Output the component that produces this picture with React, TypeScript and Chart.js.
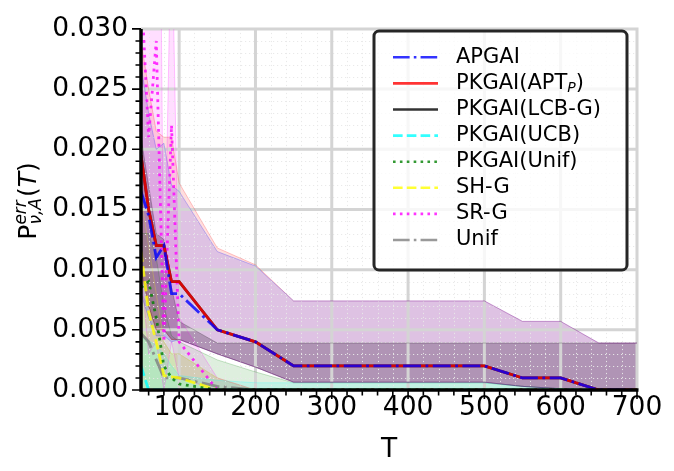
import { useEffect, useRef } from "react"
import { Chart, registerables } from "chart.js"

Chart.register(...registerables)

// budget values T
const T_VALUES = [50, 60, 70, 80, 90, 100, 150, 200, 250, 300, 350, 400, 450, 500, 550, 600, 650, 700]

const APGAI_MEAN = [0.0165, 0.0145, 0.011, 0.012, 0.008, 0.008, 0.005, 0.004, 0.002, 0.002, 0.002, 0.002, 0.002, 0.002, 0.001, 0.001, 0, 0]
const APGAI_UPPER = [0.027, 0.023, 0.02, 0.0205, 0.017, 0.0165, 0.0115, 0.0103, 0.0074, 0.0074, 0.0074, 0.0074, 0.0074, 0.0074, 0.0057, 0.0057, 0.0039, 0.0039]
const APGAI_LOWER = [0.008, 0.006, 0.0045, 0.0045, 0.004, 0.0042, 0.003, 0.0019, 0.00065, 0.00065, 0.00065, 0.00065, 0.00065, 0.00065, 0.0003, 0.0001, 0, 0]

const APT_MEAN = [0.0195, 0.015, 0.012, 0.012, 0.009, 0.009, 0.005, 0.004, 0.002, 0.002, 0.002, 0.002, 0.002, 0.002, 0.001, 0.001, 0, 0]
const APT_UPPER = [0.029, 0.025, 0.0215, 0.021, 0.021, 0.0172, 0.0118, 0.0104, 0.0074, 0.0074, 0.0074, 0.0074, 0.0074, 0.0074, 0.0057, 0.0057, 0.0039, 0.0039]
const APT_LOWER = [0.01, 0.007, 0.005, 0.005, 0.0042, 0.0042, 0.003, 0.0019, 0.00065, 0.00065, 0.00065, 0.00065, 0.00065, 0.00065, 0.0003, 0.0001, 0, 0]

const LCB_MEAN = [0.0195, 0.015, 0.012, 0.012, 0.009, 0.009, 0.005, 0.004, 0.002, 0.002, 0.002, 0.002, 0.002, 0.002, 0.001, 0.001, 0, 0]
const LCB_UPPER = [0.021, 0.017, 0.013, 0.0125, 0.0085, 0.0057, 0.0039, 0.0039, 0.0039, 0.0039, 0.0039, 0.0039, 0.0039, 0.0039, 0.0039, 0.0039, 0.0039, 0.0039]
const LCB_LOWER = [0.01, 0.007, 0.005, 0.005, 0.0042, 0.0042, 0.003, 0.0019, 0.00065, 0.00065, 0.00065, 0.00065, 0.00065, 0.00065, 0.0003, 0.0001, 0, 0]

const UCB_MEAN = [0.002, 0, 0, 0, 0, 0, 0, 0, 0, 0, 0, 0, 0, 0, 0, 0, 0, 0]
const UCB_UPPER = [0.0044, 0.0041, 0.0037, 0.003, 0.002, 0.0012, 0.0008, 0.0006, 0.0006, 0.0006, 0.0006, 0.0006, 0.0006, 0.0006, 0.0003, 0.0001, 0, 0]
const UCB_LOWER = [0, 0, 0, 0, 0, 0, 0, 0, 0, 0, 0, 0, 0, 0, 0, 0, 0, 0]

const PUNIF_MEAN = [0.0085, 0.009, 0.006, 0.002, 0.001, 0.0005, 0, 0, 0, 0, 0, 0, 0, 0, 0, 0, 0, 0]
const PUNIF_UPPER = [0.013, 0.013, 0.011, 0.007, 0.0045, 0.004, 0.0025, 0.0015, 0.0006, 0.0006, 0.0006, 0.0006, 0.0006, 0.0006, 0.0003, 0.0001, 0, 0]
const PUNIF_LOWER = [0, 0, 0, 0, 0, 0, 0, 0, 0, 0, 0, 0, 0, 0, 0, 0, 0, 0]

const SHG_MEAN = [0.0115, 0.0065, 0.004, 0.0012, 0.0011, 0.001, 0, 0, 0, 0, 0, 0, 0, 0, 0, 0, 0, 0]
const SHG_UPPER = [0.016, 0.012, 0.008, 0.004, 0.003, 0.003, 0.001, 0, 0, 0, 0, 0, 0, 0, 0, 0, 0, 0]
const SHG_LOWER = [0, 0, 0, 0, 0, 0, 0, 0, 0, 0, 0, 0, 0, 0, 0, 0, 0, 0]

const SRG_MEAN = [0.034, 0.021, 0.029, 0.004, 0.022, 0.004, 0, 0, 0, 0, 0, 0, 0, 0, 0, 0, 0, 0]
const SRG_UPPER = [0.06, 0.05, 0.08, 0.006, 0.04, 0.006, 0.001, 0, 0, 0, 0, 0, 0, 0, 0, 0, 0, 0]
const SRG_LOWER = [0.01, 0.003, 0.004, 0, 0.004, 0.001, 0, 0, 0, 0, 0, 0, 0, 0, 0, 0, 0, 0]

const UNIF_MEAN = [0.0047, 0.004, 0.0025, 0.001, 0.001, 0.001, 0.0003, 0, 0, 0, 0, 0, 0, 0, 0, 0, 0, 0]
const UNIF_UPPER = [0.008, 0.007, 0.005, 0.004, 0.003, 0.003, 0.001, 0, 0, 0, 0, 0, 0, 0, 0, 0, 0, 0]
const UNIF_LOWER = [0, 0, 0, 0, 0, 0, 0, 0, 0, 0, 0, 0, 0, 0, 0, 0, 0, 0]

const SERIES_NAMES = ["APGAI", "PKGAI(APT_P)", "PKGAI(LCB-G)", "PKGAI(UCB)", "PKGAI(Unif)", "SH-G", "SR-G", "Unif"]
const SERIES_MEANS = [APGAI_MEAN, APT_MEAN, LCB_MEAN, UCB_MEAN, PUNIF_MEAN, SHG_MEAN, SRG_MEAN, UNIF_MEAN]
const SERIES_UPPERS = [APGAI_UPPER, APT_UPPER, LCB_UPPER, UCB_UPPER, PUNIF_UPPER, SHG_UPPER, SRG_UPPER, UNIF_UPPER]
const SERIES_LOWERS = [APGAI_LOWER, APT_LOWER, LCB_LOWER, UCB_LOWER, PUNIF_LOWER, SHG_LOWER, SRG_LOWER, UNIF_LOWER]
const SERIES_COLORS = [
  [0, 0, 255], [255, 0, 0], [0, 0, 0], [0, 255, 255],
  [0, 128, 0], [255, 255, 0], [255, 0, 255], [128, 128, 128],
]
const SERIES_STYLES = ["dashdot", "solid", "solid", "dashed", "dotted", "dashed", "dotted", "dashdot"]
const BAND_ALPHAS = [0.13, 0.13, 0.24, 0.13, 0.13, 0.13, 0.13, 0.13]

const X_TICKS = [100, 200, 300, 400, 500, 600, 700]
const Y_TICKS = [0, 0.005, 0.01, 0.015, 0.02, 0.025, 0.03]
const Y_TICK_LABELS = ["0.000", "0.005", "0.010", "0.015", "0.020", "0.025", "0.030"]

const FONT = '"DejaVu Sans", sans-serif'
const LW = 2.8

const rgba = (c: number[], a: number) => `rgba(${c[0]},${c[1]},${c[2]},${a})`

function dashFor(style: string, lw = LW) {
  if (style === "dashdot") return [6.4 * lw, 1.6 * lw, lw, 1.6 * lw]
  if (style === "dashed") return [3.7 * lw, 1.6 * lw]
  if (style === "dotted") return [lw, 1.65 * lw]
  return []
}

const points = (arr: number[]) => T_VALUES.map((t, i) => ({ x: t, y: arr[i] }))

function drawLegend(ctx: CanvasRenderingContext2D) {
  const bx = 374, by = 31, bw = 253, bh = 239, r = 5
  ctx.save()
  ctx.beginPath()
  ctx.moveTo(bx + r, by)
  ctx.arcTo(bx + bw, by, bx + bw, by + bh, r)
  ctx.arcTo(bx + bw, by + bh, bx, by + bh, r)
  ctx.arcTo(bx, by + bh, bx, by, r)
  ctx.arcTo(bx, by, bx + bw, by, r)
  ctx.closePath()
  ctx.fillStyle = "rgba(255,255,255,0.8)"
  ctx.fill()
  ctx.lineWidth = 3
  ctx.strokeStyle = "#262626"
  ctx.stroke()

  SERIES_NAMES.forEach((name, i) => {
    const yy = 57.3 + i * 26.1
    ctx.beginPath()
    ctx.setLineDash(dashFor(SERIES_STYLES[i], 2.6))
    ctx.strokeStyle = rgba(SERIES_COLORS[i], 0.8)
    ctx.lineWidth = 2.6
    ctx.moveTo(393, yy)
    ctx.lineTo(438, yy)
    ctx.stroke()
    ctx.setLineDash([])

    // "_X" -> italic subscript X
    ctx.fillStyle = "#000"
    ctx.textBaseline = "middle"
    ctx.textAlign = "left"
    let tx = 456
    const parts = name.split(/_(\w)/)
    parts.forEach((p, k) => {
      if (!p) return
      if (k % 2 === 1) {
        ctx.font = `italic 14px ${FONT}`
        ctx.fillText(p, tx, yy + 5)
      } else {
        ctx.font = `21px ${FONT}`
        ctx.fillText(p, tx, yy)
      }
      tx += ctx.measureText(p).width
    })
  })
  ctx.restore()
}

function drawYTitle(ctx: CanvasRenderingContext2D) {
  ctx.save()
  ctx.translate(36, 201)
  ctx.rotate(-Math.PI / 2)
  ctx.fillStyle = "#000"
  ctx.textBaseline = "alphabetic"
  ctx.textAlign = "left"
  const big = `25px ${FONT}`
  const bigIt = `italic 25px ${FONT}`
  const small = `italic 17px ${FONT}`
  ctx.font = big
  const wP = ctx.measureText("P").width
  const wOpen = ctx.measureText("(").width
  const wClose = ctx.measureText(")").width
  ctx.font = small
  const wSup = ctx.measureText("err").width
  const wSub = ctx.measureText("ν,A").width
  ctx.font = bigIt
  const wT = ctx.measureText("T").width
  const total = wP + Math.max(wSup, wSub) + 1 + wOpen + wT + wClose
  let x = -total / 2
  ctx.font = big
  ctx.fillText("P", x, 0)
  x += wP
  ctx.font = small
  ctx.fillText("err", x, -10)
  ctx.fillText("ν,A", x, 5)
  x += Math.max(wSup, wSub) + 1
  ctx.font = big
  ctx.fillText("(", x, 0)
  x += wOpen
  ctx.font = bigIt
  ctx.fillText("T", x, 0)
  x += wT
  ctx.font = big
  ctx.fillText(")", x, 0)
  ctx.restore()
}

const decorPlugin = {
  id: "decor",
  beforeDatasetsDraw(chart: any) {
    const { ctx, chartArea: a, scales } = chart
    const xs = scales.x, ys = scales.y
    ctx.save()
    ctx.beginPath()
    ctx.rect(a.left, a.top - 2, a.right - a.left + 2, a.bottom - a.top + 2)
    ctx.clip()
    // minor grid, dotted
    ctx.strokeStyle = "rgba(232,232,232,0.95)"
    ctx.lineWidth = 1
    ctx.setLineDash([1.2, 2.8])
    ctx.beginPath()
    for (let v = 60; v < 700; v += 20) {
      if (v % 100 === 0) continue
      const px = Math.round(xs.getPixelForValue(v)) + 0.5
      ctx.moveTo(px, a.top)
      ctx.lineTo(px, a.bottom)
    }
    for (let k = 1; k < 30; k++) {
      if (k % 5 === 0) continue
      const py = Math.round(ys.getPixelForValue(k / 1000)) + 0.5
      ctx.moveTo(a.left, py)
      ctx.lineTo(a.right, py)
    }
    ctx.stroke()
    // major grid
    ctx.setLineDash([])
    ctx.strokeStyle = "#d4d4d4"
    ctx.lineWidth = 3
    ctx.beginPath()
    X_TICKS.forEach((v) => {
      const px = xs.getPixelForValue(v)
      ctx.moveTo(px, a.top)
      ctx.lineTo(px, a.bottom)
    })
    Y_TICKS.forEach((v) => {
      const py = ys.getPixelForValue(v)
      ctx.moveTo(a.left, py)
      ctx.lineTo(a.right + 1.5, py)
    })
    ctx.stroke()
    ctx.restore()
  },
  afterDatasetsDraw(chart: any) {
    const { ctx, chartArea: a, scales } = chart
    const xs = scales.x, ys = scales.y
    ctx.save()
    // spines
    ctx.strokeStyle = "#000"
    ctx.lineWidth = 3.5
    ctx.beginPath()
    ctx.moveTo(a.left, a.top)
    ctx.lineTo(a.left, a.bottom + 1.75)
    ctx.moveTo(a.left - 1.75, a.bottom)
    ctx.lineTo(a.right + 1.5, a.bottom)
    ctx.stroke()
    // ticks
    ctx.lineWidth = 1.6
    ctx.beginPath()
    Y_TICKS.forEach((v) => {
      const py = ys.getPixelForValue(v)
      ctx.moveTo(a.left, py)
      ctx.lineTo(a.left - 9, py)
    })
    for (let k = 1; k < 30; k++) {
      if (k % 5 === 0) continue
      const py = ys.getPixelForValue(k / 1000)
      ctx.moveTo(a.left, py)
      ctx.lineTo(a.left - 5.5, py)
    }
    X_TICKS.forEach((v) => {
      const px = xs.getPixelForValue(v)
      ctx.moveTo(px, a.bottom)
      ctx.lineTo(px, a.bottom + 9)
    })
    for (let v = 60; v < 700; v += 20) {
      if (v % 100 === 0) continue
      const px = xs.getPixelForValue(v)
      ctx.moveTo(px, a.bottom)
      ctx.lineTo(px, a.bottom + 5.5)
    }
    ctx.stroke()
    ctx.restore()
    drawLegend(ctx)
    drawYTitle(ctx)
  },
}

export default function App() {
  const chartRef = useRef<HTMLCanvasElement>(null)
  const chartInstance = useRef<Chart | null>(null)

  useEffect(() => {
    if (!chartRef.current) return
    if (chartInstance.current) chartInstance.current.destroy()
    const ctx = chartRef.current.getContext("2d")
    if (!ctx) return

    const datasets: any[] = []
    // mean lines first: first dataset is painted on top
    SERIES_NAMES.forEach((name, i) => {
      datasets.push({
        label: name,
        data: points(SERIES_MEANS[i]),
        borderColor: rgba(SERIES_COLORS[i], 0.8),
        borderWidth: LW,
        borderDash: dashFor(SERIES_STYLES[i]),
        pointRadius: 0,
        fill: false,
        tension: 0,
        order: i,
      })
    })
    // shaded bands
    SERIES_NAMES.forEach((name, i) => {
      const upperIndex = datasets.length
      datasets.push({
        label: name + " upper",
        data: points(SERIES_UPPERS[i]),
        borderColor: rgba(SERIES_COLORS[i], 0.22),
        borderWidth: 1,
        pointRadius: 0,
        fill: false,
        tension: 0,
        order: 20 + i,
      })
      datasets.push({
        label: name + " lower",
        data: points(SERIES_LOWERS[i]),
        borderColor: rgba(SERIES_COLORS[i], 0.22),
        borderWidth: 1,
        backgroundColor: rgba(SERIES_COLORS[i], BAND_ALPHAS[i]),
        pointRadius: 0,
        fill: upperIndex,
        tension: 0,
        order: 20 + i,
      })
    })

    chartInstance.current = new Chart(ctx, {
      type: "line",
      data: { datasets },
      options: {
        responsive: true,
        maintainAspectRatio: false,
        animation: false,
        events: [],
        layout: { padding: { top: 20, right: 37, left: 0, bottom: 0 } },
        plugins: {
          legend: { display: false },
          tooltip: { enabled: false },
          filler: { drawTime: "beforeDatasetsDraw" },
        },
        scales: {
          x: {
            type: "linear",
            min: 50,
            max: 700,
            grid: { display: false, drawTicks: false },
            border: { display: false },
            afterBuildTicks: (scale: any) => {
              scale.ticks = X_TICKS.map((v) => ({ value: v }))
            },
            afterFit: (scale: any) => {
              scale.height = 81
            },
            ticks: {
              padding: 2,
              color: "#000",
              font: { family: FONT, size: 26.5 },
              maxRotation: 0,
              autoSkip: false,
              callback: (v: any) => String(v),
            },
            title: {
              display: true,
              text: "T",
              color: "#000",
              font: { family: FONT, size: 26.5 },
              padding: { top: 0, bottom: 5 },
            },
          },
          y: {
            type: "linear",
            min: 0,
            max: 0.03,
            grid: { display: false, drawTicks: false },
            border: { display: false },
            afterBuildTicks: (scale: any) => {
              scale.ticks = Y_TICKS.map((v) => ({ value: v }))
            },
            afterFit: (scale: any) => {
              scale.width = 141
            },
            ticks: {
              padding: 13,
              color: "#000",
              font: { family: FONT, size: 26.5 },
              autoSkip: false,
              callback: (_v: any, index: number) => Y_TICK_LABELS[index],
            },
          },
        },
      },
      plugins: [decorPlugin],
    } as any)

    return () => {
      if (chartInstance.current) {
        chartInstance.current.destroy()
        chartInstance.current = null
      }
    }
  }, [])

  return (
    <div style={{ position: "fixed", left: 0, top: 0, width: 674, height: 471, background: "#fff" }}>
      <canvas ref={chartRef} />
    </div>
  )
}
